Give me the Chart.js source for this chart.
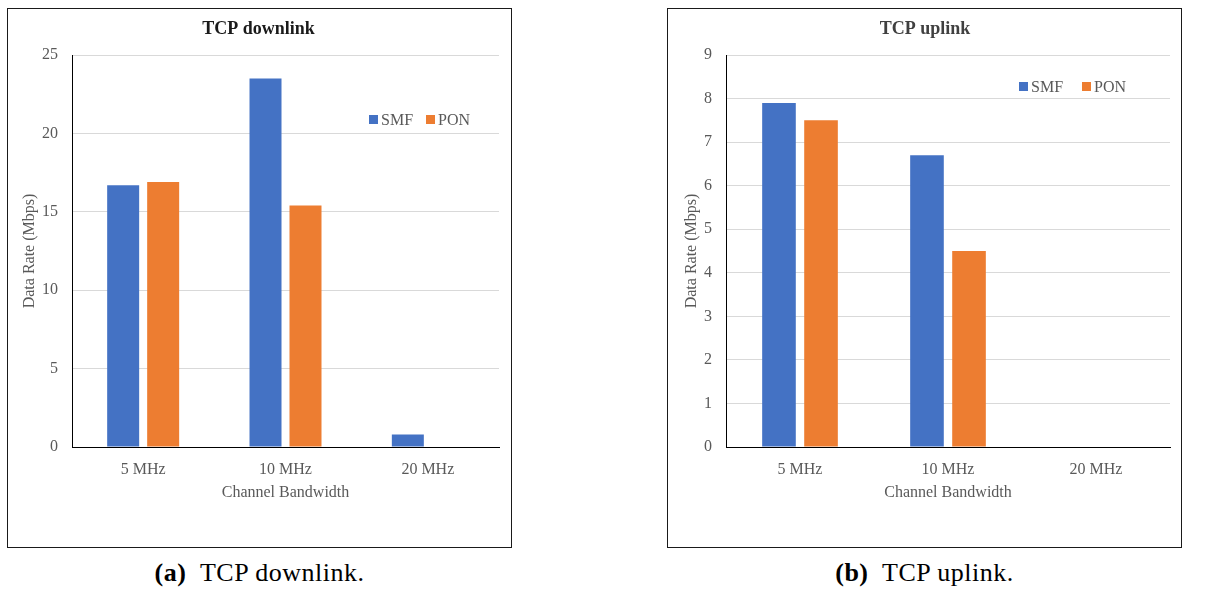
<!DOCTYPE html>
<html><head><meta charset="utf-8">
<script src="https://cdn.jsdelivr.net/npm/chart.js@4/dist/chart.umd.min.js"></script>
<style>
body{margin:0;background:#fff;width:1209px;height:590px;position:relative;overflow:hidden;font-family:'Liberation Serif','Times New Roman',serif;}
.box{position:absolute;top:8px;border:1px solid #1a1a1a;}
#boxA{left:7px;width:503px;height:538px;}
#boxB{left:667px;width:513px;height:538px;}
canvas{display:block;}
.cap{position:absolute;top:558px;font-family:'Liberation Serif','Times New Roman',serif;font-size:26px;letter-spacing:0.5px;text-align:center;line-height:30px;color:#000;white-space:nowrap}
#capA{left:7px;width:505px}
#capB{left:667px;width:515px}
</style></head>
<body>
<div class="box" id="boxA"><canvas id="cA" width="503" height="538"></canvas></div>
<div class="box" id="boxB"><canvas id="cB" width="513" height="538"></canvas></div>
<div class="cap" id="capA"><b>(a)</b>&nbsp; TCP downlink.</div>
<div class="cap" id="capB"><b>(b)</b>&nbsp; TCP uplink.</div>
<script>
const categories = ['5 MHz', '10 MHz', '20 MHz'];
const seriesNames = ['SMF', 'PON'];
const downlinkSMF = [16.7, 23.5, 0.8];
const downlinkPON = [16.9, 15.4, 0];
const uplinkSMF = [7.9, 6.7, 0];
const uplinkPON = [7.5, 4.5, 0];
const downlinkTicks = [0, 5, 10, 15, 20, 25];
const uplinkTicks = [0, 1, 2, 3, 4, 5, 6, 7, 8, 9];

const BLUE = '#4472C4', ORANGE = '#ED7D31';
const GRAY = '#595959', GRID = '#d9d9d9';
const FONT = "'Liberation Serif', 'Times New Roman', serif";

const insideLegend = {
  id: 'insideLegend',
  afterDraw(chart, args, opts) {
    const ctx = chart.ctx, ca = chart.chartArea;
    ctx.save();
    ctx.font = '16px ' + FONT;
    ctx.textBaseline = 'alphabetic';
    ctx.textAlign = 'left';
    chart.data.datasets.forEach((ds, i) => {
      const x = ca.left + opts.xs[i], y = ca.top + opts.y;
      ctx.fillStyle = ds.backgroundColor;
      ctx.fillRect(x, y, 9, 9);
      ctx.fillStyle = GRAY;
      ctx.fillText(ds.label, x + 12, y + 10);
    });
    ctx.restore();
  }
};

function makeChart(id, title, titleColor, smf, pon, ticks, areaLeft, padLeft, catPct, legendXs, legendY) {
  const maxV = ticks[ticks.length - 1], step = ticks[1] - ticks[0];
  return new Chart(document.getElementById(id), {
    type: 'bar',
    data: {
      labels: categories,
      datasets: [
        {label: seriesNames[0], data: smf, backgroundColor: BLUE, borderWidth: 0},
        {label: seriesNames[1], data: pon, backgroundColor: ORANGE, borderWidth: 0}
      ]
    },
    options: {
      responsive: false,
      animation: false,
      devicePixelRatio: 1,
      layout: {padding: {left: padLeft, right: id === 'cA' ? 12 : 11, top: 0, bottom: 41}},
      datasets: {bar: {categoryPercentage: catPct, barPercentage: 0.8}},
      plugins: {
        legend: {display: false},
        tooltip: {enabled: false},
        title: {display: true, text: title, color: titleColor,
          font: {family: FONT, size: 18, weight: 'bold'}, padding: {top: 9.2, bottom: 15.2}},
        insideLegend: {xs: legendXs, y: legendY}
      },
      scales: {
        x: {
          grid: {display: false, drawTicks: false},
          border: {display: true, color: '#000', width: 1},
          ticks: {color: GRAY, font: {family: FONT, size: 16}, padding: 13},
          title: {display: true, text: 'Channel Bandwidth', color: GRAY,
            font: {family: FONT, size: 16}, padding: {top: 0, bottom: 3.4}},
          afterFit(s) { s.height = 59; }
        },
        y: {
          min: 0, max: maxV,
          grid: {color: c => (c.tick && c.tick.value === 0) ? 'rgba(0,0,0,0)' : GRID, drawTicks: false, lineWidth: 1},
          border: {display: true, color: '#000', width: 1},
          ticks: {stepSize: step, color: GRAY, font: {family: FONT, size: 16}, padding: 14},
          title: {display: true, text: 'Data Rate (Mbps)', color: GRAY,
            font: {family: FONT, size: 16}, padding: {top: 2, bottom: 0}},
          afterFit(s) { s.width = areaLeft - padLeft; }
        }
      }
    },
    plugins: [insideLegend]
  });
}

makeChart('cA', 'TCP downlink', '#1a1a1a', downlinkSMF, downlinkPON, downlinkTicks, 64, 10, 0.562, [297, 354], 60);
makeChart('cB', 'TCP uplink', '#404040', uplinkSMF, uplinkPON, uplinkTicks, 58, 12, 0.568, [293, 356], 27);
</script>
</body></html>
